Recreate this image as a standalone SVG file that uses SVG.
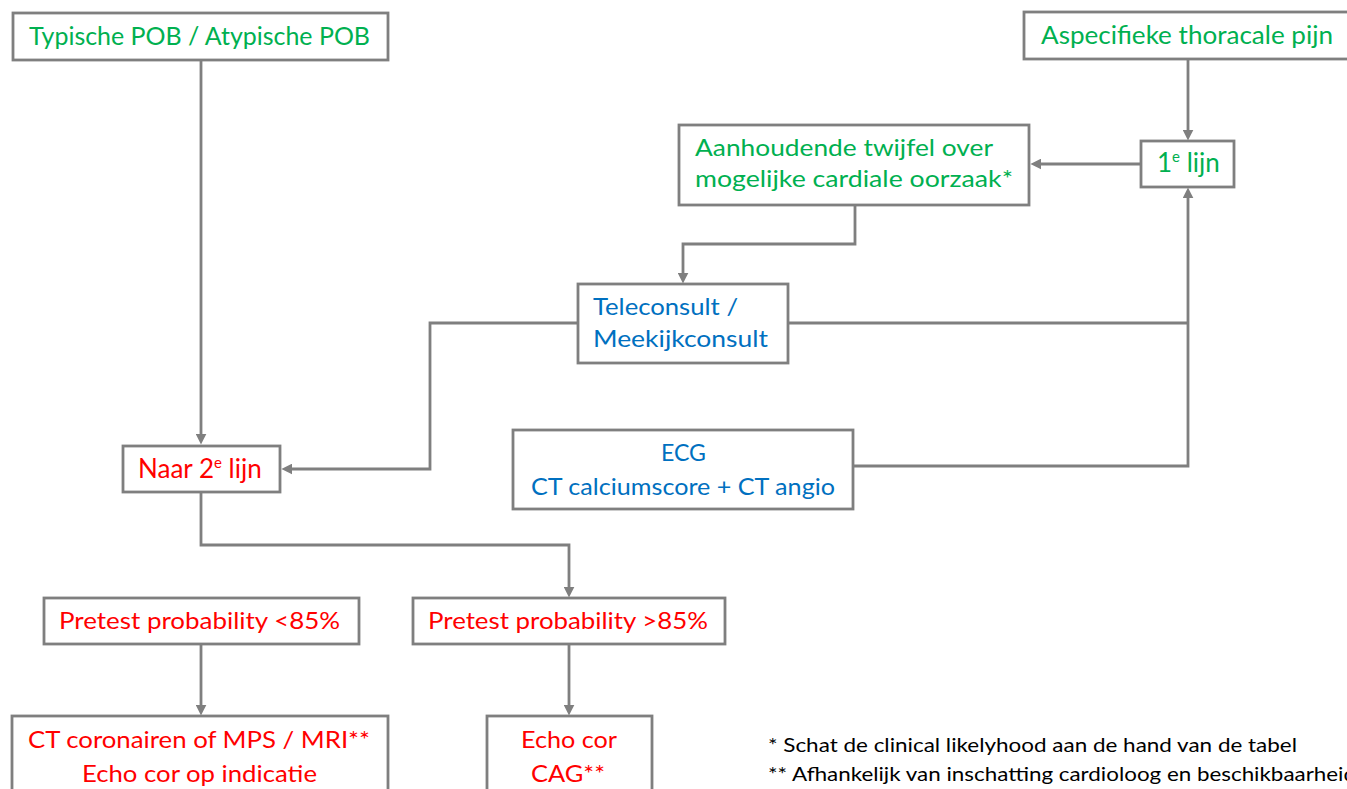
<svg xmlns="http://www.w3.org/2000/svg" width="1347" height="789" viewBox="0 0 1347 789">
<defs>
<style>
.box{fill:#ffffff;stroke:#7f7f7f;stroke-width:2.8}
.t{font-family:Lato,"Open Sans","Liberation Sans",sans-serif;font-size:24px}
.big{font-size:25.5px}
.sup{font-size:26px}
.g{fill:#00b050}
.r{fill:#ff0000}
.b{fill:#0070c0}
.note{font-family:Lato,"Open Sans","Liberation Sans",sans-serif;font-size:19px;fill:#000000}
.c{fill:none;stroke:#7f7f7f;stroke-width:2.8;stroke-linejoin:miter}
</style>
<marker id="ah" viewBox="0 0 10 10" refX="4" refY="5" markerWidth="11" markerHeight="11" markerUnits="userSpaceOnUse" orient="auto">
<path d="M0,0 L10,5 L0,10 z" fill="#7f7f7f"/>
</marker>
</defs>
<rect width="1347" height="789" fill="#ffffff"/>

<g id="connectors">
<path class="c" d="M201,60 V438" marker-end="url(#ah)"/>
<path class="c" d="M1188,60 V134" marker-end="url(#ah)"/>
<path class="c" d="M1141,164 H1037" marker-end="url(#ah)"/>
<path class="c" d="M855,205 V244 H683 V277" marker-end="url(#ah)"/>
<path class="c" d="M788,323 H1188"/>
<path class="c" d="M853,466 H1188 V194" marker-end="url(#ah)"/>
<path class="c" d="M578,323 H430 V469 H288" marker-end="url(#ah)"/>
<path class="c" d="M201,492 V545 H569 V591" marker-end="url(#ah)"/>
<path class="c" d="M201,644 V709" marker-end="url(#ah)"/>
<path class="c" d="M569,644 V709" marker-end="url(#ah)"/>
</g>

<g id="n-typische">
<rect class="box" x="13" y="13" width="375" height="47"/>
<text class="t big g" x="29" y="45" textLength="341" lengthAdjust="spacingAndGlyphs">Typische POB / Atypische POB</text>
</g>

<g id="n-aspecifieke">
<rect class="box" x="1024" y="12" width="340" height="47"/>
<text class="t big g" x="1041" y="44" textLength="292" lengthAdjust="spacingAndGlyphs">Aspecifieke thoracale pijn</text>
</g>

<g id="n-1elijn">
<rect class="box" x="1141" y="141" width="93" height="46"/>
<text class="t sup g" x="1157" y="172">1<tspan font-size="15" dy="-10">e</tspan><tspan dy="10"> lijn</tspan></text>
</g>

<g id="n-aanhoudende">
<rect class="box" x="679" y="125" width="350" height="80"/>
<text class="t g" x="695" y="156" textLength="298" lengthAdjust="spacingAndGlyphs">Aanhoudende twijfel over</text>
<text class="t g" x="695" y="187" textLength="318" lengthAdjust="spacingAndGlyphs">mogelijke cardiale oorzaak*</text>
</g>

<g id="n-teleconsult">
<rect class="box" x="578" y="284" width="210" height="79"/>
<text class="t b" x="593" y="315" textLength="145" lengthAdjust="spacingAndGlyphs">Teleconsult /</text>
<text class="t b" x="593" y="347" textLength="175" lengthAdjust="spacingAndGlyphs">Meekijkconsult</text>
</g>

<g id="n-naar2elijn">
<rect class="box" x="123" y="446" width="157" height="46"/>
<text class="t sup r" x="138" y="478">Naar 2<tspan font-size="15" dy="-10">e</tspan><tspan dy="10"> lijn</tspan></text>
</g>

<g id="n-ecg">
<rect class="box" x="513" y="430" width="340" height="79"/>
<text class="t b" x="661" y="461" textLength="45" lengthAdjust="spacingAndGlyphs">ECG</text>
<text class="t b" x="531" y="495" textLength="304" lengthAdjust="spacingAndGlyphs">CT calciumscore + CT angio</text>
</g>

<g id="n-pretest-low">
<rect class="box" x="44" y="598" width="315" height="46"/>
<text class="t r" x="59" y="629" textLength="281" lengthAdjust="spacingAndGlyphs">Pretest probability &lt;85%</text>
</g>

<g id="n-pretest-high">
<rect class="box" x="413" y="598" width="312" height="46"/>
<text class="t r" x="428" y="629" textLength="280" lengthAdjust="spacingAndGlyphs">Pretest probability &gt;85%</text>
</g>

<g id="n-ct-coronairen">
<rect class="box" x="12" y="716" width="376" height="90"/>
<text class="t r" x="28" y="748" textLength="342" lengthAdjust="spacingAndGlyphs">CT coronairen of MPS / MRI**</text>
<text class="t r" x="82" y="782" textLength="235" lengthAdjust="spacingAndGlyphs">Echo cor op indicatie</text>
</g>

<g id="n-echo-cag">
<rect class="box" x="487" y="716" width="165" height="90"/>
<text class="t r" x="521" y="748" textLength="96" lengthAdjust="spacingAndGlyphs">Echo cor</text>
<text class="t r" x="531" y="782" textLength="74" lengthAdjust="spacingAndGlyphs">CAG**</text>
</g>

<g id="footnotes">
<text class="note" x="768" y="752" textLength="529" lengthAdjust="spacingAndGlyphs">* Schat de clinical likelyhood aan de hand van de tabel</text>
<text class="note" x="768" y="781" textLength="588" lengthAdjust="spacingAndGlyphs">** Afhankelijk van inschatting cardioloog en beschikbaarheid</text>
</g>
</svg>
